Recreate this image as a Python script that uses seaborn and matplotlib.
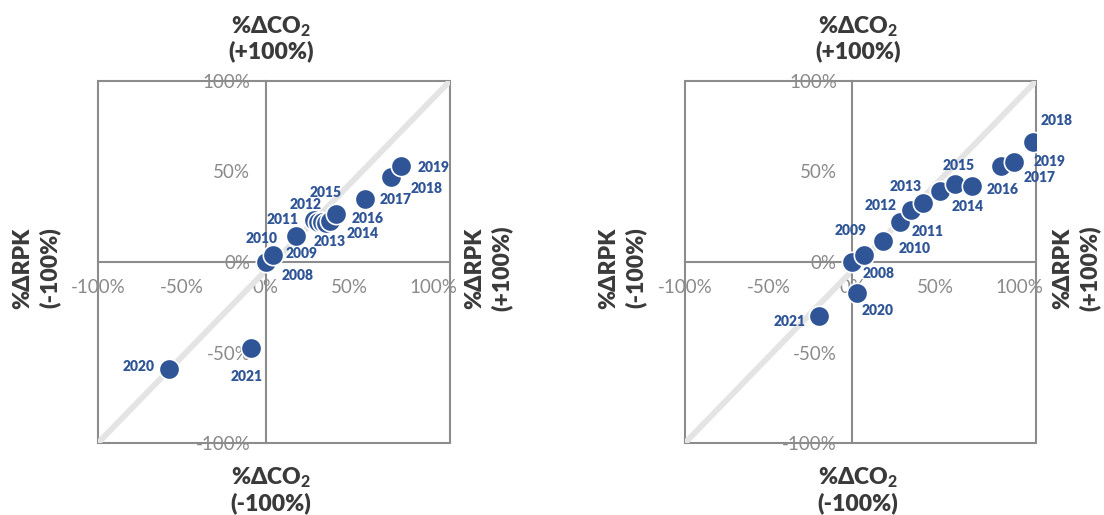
import matplotlib
matplotlib.use("Agg")
import matplotlib.pyplot as plt
from matplotlib.patches import Rectangle
from matplotlib.ticker import FuncFormatter
import seaborn as sns

sns.set_style("white")
plt.rcParams["font.family"] = ["Lato", "DejaVu Sans"]
plt.rcParams["mathtext.fontset"] = "custom"
plt.rcParams["mathtext.bf"] = "Lato:black"
plt.rcParams["mathtext.rm"] = "Lato"

# ---- data: cumulative change since 2008 (%) ----
years = [2008, 2009, 2010, 2011, 2012, 2013, 2014, 2015, 2016,
         2017, 2018, 2019, 2020, 2021]

co2_left = [0.0, 4.6, 18.0, 28.7, 31.1, 33.5, 35.9, 38.3, 41.9,
            59.3, 74.7, 81.0, -57.5, -9.0]
rpk_left = [0.0, 4.0, 14.2, 23.2, 22.1, 21.9, 21.5, 22.8, 26.5,
            34.8, 47.0, 52.8, -59.1, -47.7]

co2_right = [0.0, 7.1, 18.7, 28.6, 35.5, 42.3, 52.8, 61.7, 72.0,
             89.1, 108.3, 97.0, 3.2, -19.6]
rpk_right = [0.0, 3.9, 11.8, 21.9, 28.7, 32.4, 39.4, 43.1, 41.8,
             53.2, 66.1, 55.4, -17.1, -30.0]

tick_values = [-100, -50, 0, 50, 100]

# year-label offsets in pixels (dx, dy; dy positive = downwards)
label_off_left = {
    2008: (32, 14), 2009: (28, -1), 2010: (-34, 2), 2011: (-31, -1),
    2012: (-12, -17), 2013: (8, 19), 2014: (37, 10), 2015: (-4, -28),
    2016: (32, 4), 2017: (31, 0), 2018: (36, 12), 2019: (32, 1),
    2020: (-31, -2), 2021: (-4, 28),
}
label_off_right = {
    2008: (26, 11), 2009: (-13, -24), 2010: (31, 8), 2011: (28, 9),
    2012: (-31, -5), 2013: (-17, -17), 2014: (27, 16), 2015: (3, -18),
    2016: (30, 3), 2017: (39, 12), 2018: (23, -22), 2019: (35, 0),
    2020: (20, 18), 2021: (-30, 5),
}

POINT = "#2F5597"
FRAME = "#8c8c8c"
TICKTXT = "#8a8a8a"
TITLE = "#3a3a3a"
DIAG = "#e4e4e4"

W, H = 1104, 515
fig = plt.figure(figsize=(W / 100, H / 100), dpi=100)


def px(x, y):
    return x / W, 1 - y / H


def draw_panel(rect, co2, rpk, offsets):
    ax = fig.add_axes(rect)
    ax.set_xlim(-100, 110)
    ax.set_ylim(-100, 100)

    # outer frame
    ax.add_patch(Rectangle((0, 0), 1, 1, transform=ax.transAxes, fill=False,
                           edgecolor=FRAME, linewidth=1.5, zorder=1,
                           clip_on=False))
    # diagonal reference
    ax.plot([0, 1], [0, 1], transform=ax.transAxes, color=DIAG,
            linewidth=4.2, solid_capstyle="butt", zorder=1.2)

    # axes crossing at zero
    for side in ("top", "right"):
        ax.spines[side].set_visible(False)
    ax.spines["left"].set_position(("data", 0))
    ax.spines["bottom"].set_position(("data", 0))
    for side in ("left", "bottom"):
        ax.spines[side].set_color(FRAME)
        ax.spines[side].set_linewidth(1.5)

    ax.set_xticks(tick_values)
    ax.set_yticks(tick_values)
    fmt = FuncFormatter(lambda v, _: f"{v:.0f}%")
    ax.xaxis.set_major_formatter(fmt)
    ax.yaxis.set_major_formatter(fmt)
    ax.tick_params(axis="both", direction="out", length=5, width=1.2,
                   color=FRAME, labelcolor=TICKTXT, labelsize=13.5)
    ax.tick_params(axis="x", pad=7)
    ax.tick_params(axis="y", pad=6)
    ax.set_xlabel("")
    ax.set_ylabel("")

    sns.scatterplot(x=co2, y=rpk, ax=ax, s=215, color=POINT,
                    edgecolor="white", linewidth=1.2, zorder=3,
                    legend=False)

    for yr, cx, cy in zip(years, co2, rpk):
        dx, dy = offsets[yr]
        ax.annotate(str(yr), (cx, cy), xytext=(dx, -dy),
                    textcoords="offset pixels", ha="center", va="center",
                    fontsize=10, fontweight="heavy", color=POINT, zorder=4,
                    annotation_clip=False)

    for lab in ax.get_xticklabels() + ax.get_yticklabels():
        lab.set_bbox(dict(facecolor="white", edgecolor="none", pad=1))
    return ax


co2_sub = r"%ΔCO$_\mathbf{2}$"
TSIZE = 16.5
TW = "heavy"


def titles(cx, left_x, right_x):
    kw = dict(ha="center", va="center", fontsize=TSIZE, fontweight=TW,
              color=TITLE)
    fig.text(*px(cx, 27), co2_sub, **kw)
    fig.text(*px(cx, 51), "(+100%)", **kw)
    fig.text(*px(cx, 478), co2_sub, **kw)
    fig.text(*px(cx, 503), "(-100%)", **kw)
    fig.text(*px(left_x, 268), "%ΔRPK", rotation=90, **kw)
    fig.text(*px(left_x + 27, 268), "(-100%)", rotation=90, **kw)
    fig.text(*px(right_x, 268), "%ΔRPK", rotation=90, **kw)
    fig.text(*px(right_x + 27, 268), "(+100%)", rotation=90, **kw)


draw_panel([98 / W, (H - 443) / H, 352 / W, 362 / H],
           co2_left, rpk_left, label_off_left)
draw_panel([685 / W, (H - 443) / H, 351 / W, 362 / H],
           co2_right, rpk_right, label_off_right)

titles(271, 23, 475)
titles(858, 609, 1063)

fig.savefig("out.png", dpi=100, facecolor="white")
